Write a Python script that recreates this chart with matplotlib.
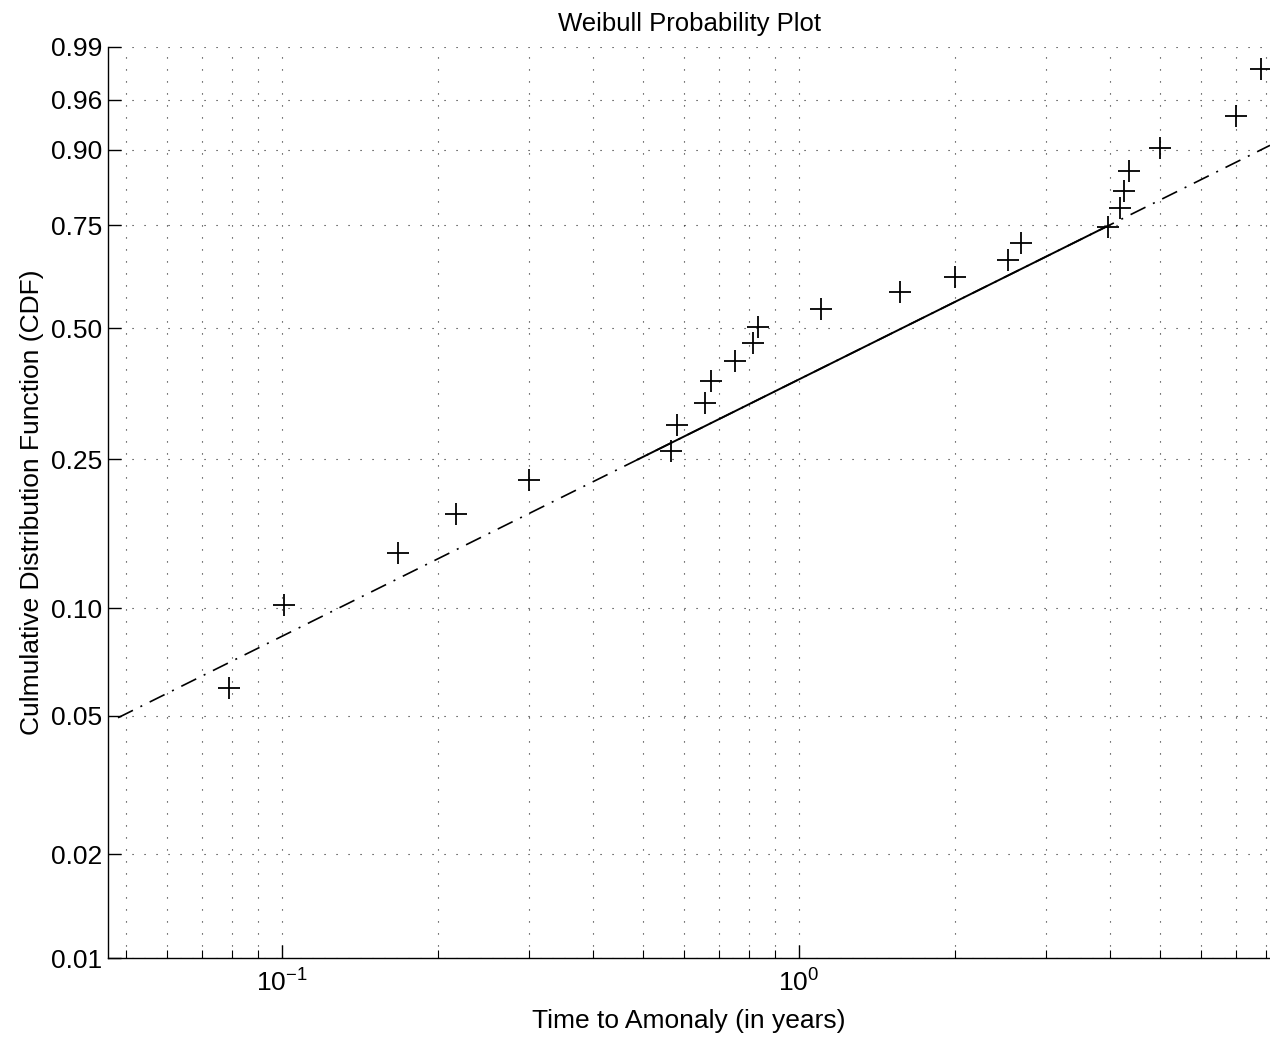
import matplotlib
matplotlib.use("Agg")
import matplotlib.pyplot as plt
import numpy as np
from matplotlib.ticker import LogLocator, NullFormatter, FixedLocator, NullLocator

plt.rcParams["font.family"] = ["Liberation Sans", "DejaVu Sans"]

# Observed times (years) and plotted probabilities
time_years = [0.079, 0.101, 0.168, 0.217, 0.300, 0.565, 0.581, 0.658, 0.676,
              0.752, 0.815, 0.833, 1.103, 1.568, 2.003, 2.536, 2.688, 3.960,
              4.178, 4.253, 4.349, 4.992, 7.003, 7.829]
cdf_values = [0.060, 0.102, 0.142, 0.180, 0.221, 0.262, 0.304, 0.343, 0.384,
              0.427, 0.465, 0.503, 0.546, 0.588, 0.625, 0.665, 0.708, 0.746,
              0.788, 0.826, 0.863, 0.903, 0.944, 0.981]

# Reference Weibull fit
fit_shape = 0.75
fit_scale = 2.58
fit_span = [0.0482, 8.15]      # dash-dot extent
fit_solid = [0.489, 3.96]      # solid (quartile) extent

ytick_vals = [0.01, 0.02, 0.05, 0.10, 0.25, 0.50, 0.75, 0.90, 0.96, 0.99]
ytick_labels = ["0.01", "0.02", "0.05", "0.10", "0.25", "0.50", "0.75", "0.90", "0.96", "0.99"]


def fwd(p):
    p = np.clip(np.asarray(p, dtype=float), 1e-12, 1 - 1e-12)
    return np.log(-np.log(1 - p))


def inv(t):
    return 1 - np.exp(-np.exp(np.asarray(t, dtype=float)))


def wbl_cdf(x):
    x = np.asarray(x, dtype=float)
    return 1 - np.exp(-(x / fit_scale) ** fit_shape)


fig = plt.figure(figsize=(12.7, 10.42), dpi=100)
ax = fig.add_axes([108 / 1270, 1 - 958 / 1042, 1 - 108 / 1270, (958 - 46.5) / 1042])
ax.set_xscale("log")
ax.set_yscale("function", functions=(fwd, inv))

grid_style = dict(color="#222222", linestyle=(0, (1, 9.8)), linewidth=0.8)

# fitted line
ax.plot(fit_span, wbl_cdf(fit_span), color="black", linewidth=1.2,
        linestyle=(0, (10, 5, 1.2, 5)), zorder=3)
ax.plot(fit_solid, wbl_cdf(fit_solid), color="black", linewidth=1.4, zorder=3)

# data
ax.plot(time_years, cdf_values, linestyle="none", marker="+", markersize=16,
        markeredgewidth=1.3, color="black", zorder=4)

ax.set_xlim(0.0461, 8.15)
ax.set_ylim(0.01, 0.99)

ax.yaxis.set_major_locator(FixedLocator(ytick_vals))
ax.set_yticklabels(ytick_labels)
ax.yaxis.set_minor_locator(NullLocator())

ax.xaxis.set_major_locator(LogLocator(base=10, numticks=10))
ax.xaxis.set_minor_locator(LogLocator(base=10, subs=np.arange(2, 10), numticks=20))
ax.xaxis.set_minor_formatter(NullFormatter())

ax.grid(True, which="major", axis="both", **grid_style)
ax.grid(True, which="minor", axis="x", **grid_style)

ax.spines["top"].set_visible(False)
ax.spines["right"].set_visible(False)
ax.spines["left"].set_linewidth(1.0)
ax.spines["bottom"].set_linewidth(1.0)

ax.tick_params(axis="both", which="major", direction="in", length=9.5, width=1.0,
               labelsize=19, colors="black")
ax.tick_params(axis="x", which="minor", direction="in", length=5.5, width=0.8)
ax.tick_params(axis="y", which="major", pad=4)
ax.tick_params(axis="x", which="major", pad=8)

ax.set_title("Weibull Probability Plot", fontsize=18.5, pad=11)
ax.set_xlabel("Time to Amonaly (in years)", fontsize=19, labelpad=9)
ax.set_ylabel("Culmulative Distribution Function (CDF)", fontsize=19, labelpad=5)

fig.savefig("out.png", dpi=100)
